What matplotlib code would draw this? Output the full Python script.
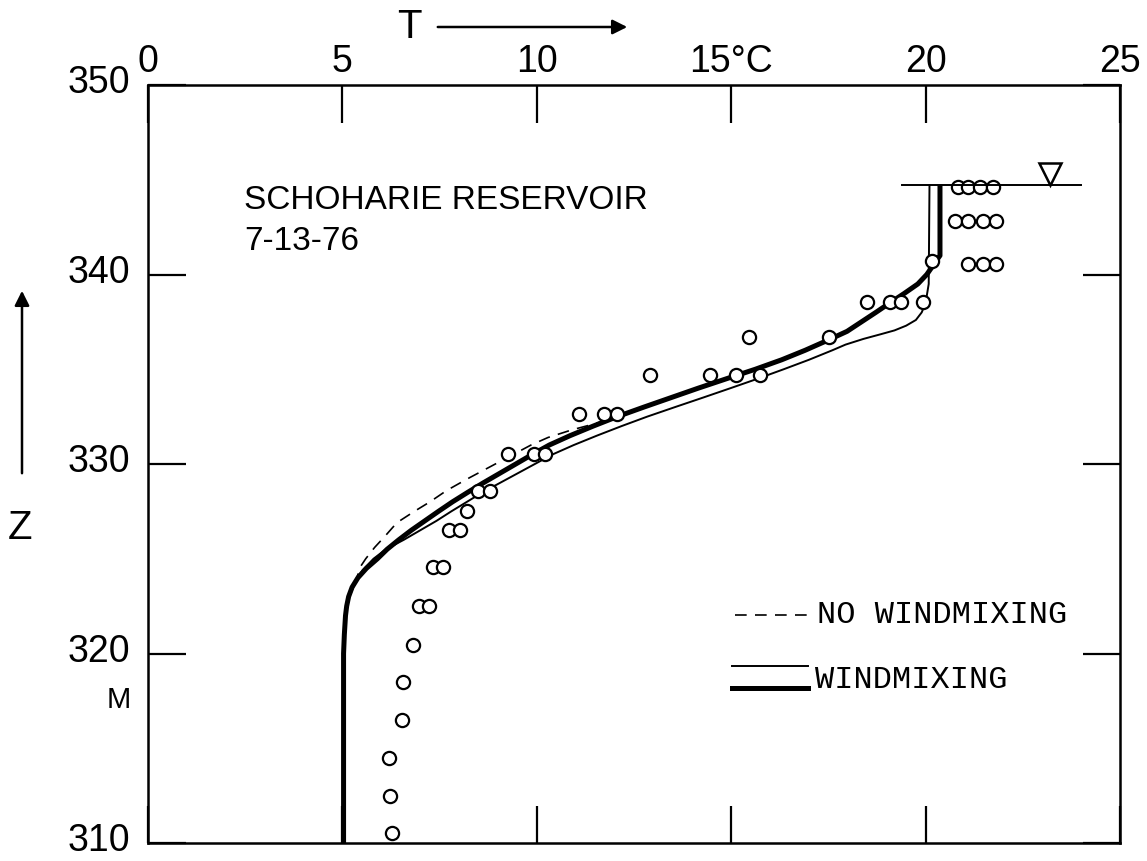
import matplotlib
matplotlib.use("Agg")
import matplotlib.pyplot as plt
from matplotlib.patches import FancyArrowPatch
from matplotlib.transforms import ScaledTranslation

# ---- data -------------------------------------------------------------
# observed temperature profile (T in deg C, elevation z in m)
obs_T = [20.84, 21.10, 21.41, 21.73,
         20.76, 21.10, 21.47, 21.80,
         21.10, 21.47, 21.80,
         20.16,
         18.49, 19.09, 19.38, 19.93,
         15.46, 17.51,
         12.90, 14.46, 15.13, 15.74,
         11.08, 11.72, 12.05,
         9.27, 9.92, 10.20,
         8.49, 8.80,
         8.20,
         7.73, 8.02,
         7.34, 7.58,
         6.98, 7.24,
         6.82, 6.56, 6.54, 6.20, 6.22, 6.28]
obs_z = [344.6, 344.6, 344.6, 344.6,
         342.8, 342.8, 342.8, 342.8,
         340.56, 340.56, 340.56,
         340.7,
         338.54, 338.54, 338.54, 338.54,
         336.7, 336.7,
         334.68, 334.68, 334.68, 334.68,
         332.63, 332.63, 332.63,
         330.55, 330.55, 330.55,
         328.58, 328.58,
         327.53,
         326.5, 326.5,
         324.58, 324.58,
         322.5, 322.5,
         320.47, 318.5, 316.5, 314.47, 312.5, 310.53]

# simulated profile without wind mixing (dashed)
nowind_z = [310.0, 320.0, 322.0, 323.0, 323.5, 324.0, 324.6, 325.0, 325.6,
            326.2, 326.9, 327.5, 328.0, 328.6, 329.2, 329.8, 330.4, 331.0,
            331.4, 331.8, 332.1, 332.5, 333.0, 333.5, 334.0, 334.5, 335.0,
            335.5, 336.0, 336.5, 337.0, 337.5, 338.0, 338.5, 339.0, 339.5,
            340.0, 340.5, 340.8, 341.0, 344.7]
nowind_T = [5.03, 5.03, 5.08, 5.17, 5.26, 5.37, 5.47, 5.60, 5.83,
            6.10, 6.40, 6.85, 7.25, 7.68, 8.20, 8.75, 9.30, 9.85,
            10.29, 10.90, 11.45, 12.07, 12.75, 13.45, 14.15, 14.88, 15.62,
            16.30, 16.90, 17.45, 17.98, 18.35, 18.72, 19.08, 19.45, 19.80,
            20.03, 20.20, 20.30, 20.37, 20.37]

# simulated profile with wind mixing, thick curve
wind_a_z = [310.0, 320.0, 321.0, 322.0, 322.5, 323.0, 323.5, 324.0, 324.5,
            325.0, 325.5, 326.0, 326.5, 327.0, 327.5, 328.0, 328.5, 329.0,
            329.5, 330.0, 330.5, 331.0, 331.5, 332.0, 332.5, 333.0, 333.5,
            334.0, 334.5, 335.0, 335.5, 336.0, 336.5, 337.0, 337.5, 338.0,
            338.5, 339.0, 339.5, 340.0, 340.5, 340.8, 341.0, 344.7]
wind_a_T = [5.03, 5.03, 5.05, 5.08, 5.11, 5.16, 5.25, 5.40, 5.62,
            5.90, 6.15, 6.45, 6.77, 7.12, 7.47, 7.83, 8.22, 8.62,
            9.04, 9.46, 9.88, 10.32, 10.86, 11.45, 12.07, 12.75, 13.45,
            14.15, 14.88, 15.62, 16.30, 16.90, 17.45, 17.98, 18.35, 18.72,
            19.08, 19.45, 19.80, 20.03, 20.20, 20.30, 20.37, 20.37]

# simulated profile with wind mixing, thin curve
wind_b_z = [310.0, 320.0, 322.0, 323.0, 323.5, 324.0, 324.4, 325.0, 325.5,
            326.0, 326.5, 327.0, 327.5, 328.0, 328.5, 329.0, 329.5, 330.0,
            330.5, 331.0, 331.5, 332.0, 332.5, 333.0, 333.5, 334.0, 334.5,
            335.0, 335.5, 336.0, 336.3, 336.6, 336.85, 337.05, 337.3, 337.6,
            338.0, 338.5, 339.5, 344.7]
wind_b_T = [5.03, 5.03, 5.08, 5.18, 5.28, 5.40, 5.52, 5.80, 6.12,
            6.58, 7.00, 7.42, 7.80, 8.20, 8.60, 9.05, 9.50, 9.95,
            10.40, 10.95, 11.55, 12.18, 12.84, 13.55, 14.27, 14.98, 15.68,
            16.35, 17.00, 17.60, 17.94, 18.40, 18.85, 19.20, 19.50, 19.75,
            19.90, 20.00, 20.08, 20.10]

surface_z = 344.7
surface_T = [19.4, 24.0]
surface_mark_T = 23.19

x_ticks = [0, 5, 10, 15, 20, 25]
x_ticklabels = ["0", "5", "10", "15°C", "20", "25"]
y_ticks = [310, 320, 330, 340, 350]
y_ticklabels = ["310", "320", "330", "340", "350"]

# ---- figure -----------------------------------------------------------
W, H = 1147, 861
fig = plt.figure(figsize=(W / 100, H / 100), dpi=100)
L, R, T_, B = 148, 1120, 85, 843
ax = fig.add_axes([L / W, (H - B) / H, (R - L) / W, (B - T_) / H])
ax.set_xlim(0, 25)
ax.set_ylim(310, 350)

sans = ["Liberation Sans", "DejaVu Sans"]
mono = ["Liberation Mono", "DejaVu Sans Mono"]

for s in ax.spines.values():
    s.set_linewidth(1.8)

ax.xaxis.tick_top()
ax.set_xticks(x_ticks)
ax.set_xticklabels(x_ticklabels, family=sans, fontsize=27)
ax.set_yticks(y_ticks)
ax.set_yticklabels(y_ticklabels, family=sans, fontsize=27)
ax.tick_params(axis="both", direction="in", length=27, width=1.6,
               top=True, bottom=True, left=True, right=True,
               labeltop=True, labelbottom=False, labelleft=True,
               labelright=False)
ax.tick_params(axis="x", pad=3.5)
ax.tick_params(axis="y", pad=13)

# lift the elevation labels a little so they sit just above their ticks
lift = ScaledTranslation(0, 4 / 72, fig.dpi_scale_trans)
for lab in ax.get_yticklabels():
    lab.set_transform(lab.get_transform() + lift)

# model curves
ax.plot(nowind_T, nowind_z, color="black", lw=1.2, ls=(0, (7, 5)),
        solid_capstyle="butt", zorder=3)
ax.plot(wind_b_T, wind_b_z, color="black", lw=1.4, zorder=3)
ax.plot(wind_a_T, wind_a_z, color="black", lw=3.6, zorder=4,
        solid_capstyle="butt")

# observations
ax.plot(obs_T, obs_z, ls="none", marker="o", ms=9.5, mfc="white",
        mec="black", mew=1.6, zorder=5)

# water surface
ax.plot(surface_T, [surface_z, surface_z], color="black", lw=1.4, zorder=6)
ax.plot([surface_mark_T], [surface_z + 0.58], marker="v", ms=15.5,
        mfc="white", mec="black", mew=1.8, ls="none", zorder=6)

# annotation and legend
ax.text(0.099, 0.848, "SCHOHARIE RESERVOIR", transform=ax.transAxes,
        family=sans, fontsize=24, va="center", ha="left")
ax.text(0.099, 0.793, "7-13-76", transform=ax.transAxes,
        family=sans, fontsize=24, va="center", ha="left")

ax.plot([0.604, 0.683], [0.301, 0.301], transform=ax.transAxes,
        color="black", lw=1.2, ls=(0, (7, 5)))
ax.text(0.688, 0.301, "NO WINDMIXING", transform=ax.transAxes,
        family=mono, fontsize=23, va="center", ha="left")
ax.plot([0.601, 0.679], [0.2335, 0.2335], transform=ax.transAxes,
        color="black", lw=1.4)
ax.plot([0.601, 0.679], [0.2045, 0.2045], transform=ax.transAxes,
        color="black", lw=3.6)
ax.text(0.686, 0.215, "WINDMIXING", transform=ax.transAxes,
        family=mono, fontsize=23, va="center", ha="left")

# axis names with arrows
fig.text(409 / W, 1 - 27 / H, "T", family=sans, fontsize=29,
         ha="center", va="center")
fig.add_artist(FancyArrowPatch(
    (435 / W, 1 - 27 / H), (630 / W, 1 - 27 / H),
    transform=fig.transFigure, arrowstyle="-|>", mutation_scale=22,
    lw=1.8, color="black"))
fig.text(20 / W, 1 - 528 / H, "Z", family=sans, fontsize=29,
         ha="center", va="center")
fig.add_artist(FancyArrowPatch(
    (22 / W, 1 - 476 / H), (22 / W, 1 - 288 / H),
    transform=fig.transFigure, arrowstyle="-|>", mutation_scale=22,
    lw=1.8, color="black"))
fig.text(119 / W, 1 - 700 / H, "M", family=sans, fontsize=21,
         ha="center", va="center")

fig.savefig("out.png", dpi=100)
